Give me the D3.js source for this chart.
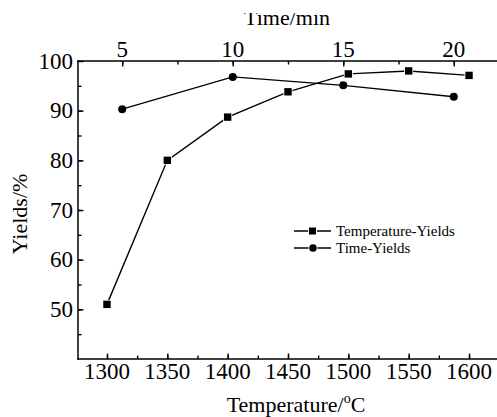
<!DOCTYPE html>
<html>
<head>
<meta charset="utf-8">
<script src="https://cdn.jsdelivr.net/npm/d3@7"></script>
<style>
  body { margin: 0; background: #fff; }
  svg { display: block; font-family: "Liberation Serif", "Times New Roman", serif; }
</style>
</head>
<body>
<svg id="chart" width="497" height="417"></svg>
<script>
// data
const temps = [1300, 1350, 1400, 1450, 1500, 1550, 1600];
const tempYields = [51.0, 80.0, 88.7, 93.8, 97.4, 98.0, 97.1];
const times = [5, 10, 15, 20];
const timeYields = [90.3, 96.8, 95.1, 92.8];
const tempTicks = [1300, 1350, 1400, 1450, 1500, 1550, 1600];
const timeTicks = [5, 10, 15, 20];
const yieldTicks = [50, 60, 70, 80, 90, 100];

const w = 497;
const h = 417;
const plotLeft = 78, plotRight = 498, plotTop = 61, plotBottom = 359;

const svg = d3.select("#chart");

let x = d3.scaleLinear().domain([1276, 1624]).range([plotLeft, plotRight]);
let xTop = d3.scaleLinear().domain([3, 22]).range([plotLeft, plotRight]);
let y = d3.scaleLinear().domain([40, 100]).range([plotBottom, plotTop]);

function styleAxis(g) {
  g.select(".domain").remove();
  g.selectAll("text").remove();
  g.selectAll("line").attr("stroke", "#000").attr("stroke-width", 1.4);
}

// tick marks (inward), minor then major
svg.append("g").attr("transform", `translate(0,${plotBottom})`)
  .call(d3.axisBottom(x).tickValues(d3.range(1300, 1626, 25)).tickSize(-3.5).tickFormat(""))
  .call(styleAxis);
svg.append("g").attr("transform", `translate(0,${plotTop})`)
  .call(d3.axisTop(xTop).tickValues(d3.range(5, 22, 2.5)).tickSize(-3.5).tickFormat(""))
  .call(styleAxis);
svg.append("g").attr("transform", `translate(${plotLeft},0)`)
  .call(d3.axisLeft(y).tickValues(d3.range(45, 100, 5)).tickSize(-3.5).tickFormat(""))
  .call(styleAxis);
svg.append("g").attr("transform", `translate(0,${plotBottom})`)
  .call(d3.axisBottom(x).tickValues(tempTicks).tickSize(-5.5).tickFormat(""))
  .call(styleAxis);
svg.append("g").attr("transform", `translate(0,${plotTop})`)
  .call(d3.axisTop(xTop).tickValues(timeTicks).tickSize(-5.5).tickFormat(""))
  .call(styleAxis);
svg.append("g").attr("transform", `translate(${plotLeft},0)`)
  .call(d3.axisLeft(y).tickValues(yieldTicks).tickSize(-5.5).tickFormat(""))
  .call(styleAxis);

// axis lines: left, bottom, top (no right axis)
const frame = [
  [plotLeft, plotTop, plotLeft, plotBottom],
  [plotLeft, plotBottom, plotRight, plotBottom],
  [plotLeft, plotTop, plotRight, plotTop]
];
svg.selectAll(".frame").data(frame).enter().append("line")
  .attr("x1", d => d[0]).attr("y1", d => d[1]).attr("x2", d => d[2]).attr("y2", d => d[3])
  .attr("stroke", "#000").attr("stroke-width", 1.5).attr("stroke-linecap", "square");

// tick labels
svg.selectAll(".xl").data(tempTicks).enter().append("text")
  .attr("x", d => x(d)).attr("y", 378.5)
  .attr("text-anchor", "middle").attr("font-size", 23).attr("fill", "#000")
  .text(d => d);
svg.selectAll(".tl").data(timeTicks).enter().append("text")
  .attr("x", d => xTop(d)).attr("y", 56.5)
  .attr("text-anchor", "middle").attr("font-size", 23).attr("fill", "#000")
  .text(d => d);
svg.selectAll(".yl").data(yieldTicks).enter().append("text")
  .attr("x", plotLeft - 5).attr("y", d => y(d) + 7.5)
  .attr("text-anchor", "end").attr("font-size", 23).attr("fill", "#000")
  .text(d => d);

// lines
const lineT = d3.line().x((d, i) => x(temps[i])).y(d => y(d));
const lineM = d3.line().x((d, i) => xTop(times[i])).y(d => y(d));

svg.append("path").datum(tempYields)
  .attr("d", lineT).attr("fill", "none").attr("stroke", "#000").attr("stroke-width", 1.4);
svg.append("path").datum(timeYields)
  .attr("d", lineM).attr("fill", "none").attr("stroke", "#000").attr("stroke-width", 1.4);

svg.selectAll(".sq").data(tempYields).enter().append("rect")
  .attr("x", (d, i) => x(temps[i]) - 3.7)
  .attr("y", d => y(d) - 3.7)
  .attr("width", 7.4).attr("height", 7.4)
  .attr("fill", "#000").attr("stroke", "#fff").attr("stroke-width", 1.6)
  .attr("paint-order", "stroke");

svg.selectAll(".dot").data(timeYields).enter().append("circle")
  .attr("cx", (d, i) => xTop(times[i]))
  .attr("cy", d => y(d))
  .attr("r", 4).attr("fill", "#000");

// axis titles
const xTitle = svg.append("text").attr("x", 296).attr("y", 411.5)
  .attr("text-anchor", "middle").attr("font-size", 22);
xTitle.append("tspan").text("Temperature/");
xTitle.append("tspan").attr("font-size", 14).attr("dy", -9).text("o");
xTitle.append("tspan").attr("dy", 9).text("C");

svg.append("text")
  .attr("transform", "translate(27,214) rotate(-90)")
  .attr("text-anchor", "middle").attr("font-size", 22)
  .text("Yields/%");

svg.append("clipPath").attr("id", "topclip")
  .append("rect").attr("x", 0).attr("y", 13).attr("width", w).attr("height", 40);
svg.append("text").attr("x", 287).attr("y", 25)
  .attr("text-anchor", "middle").attr("font-size", 22)
  .attr("clip-path", "url(#topclip)")
  .text("Time/min");

// legend
const legend = [
  { name: "Temperature-Yields", shape: "square" },
  { name: "Time-Yields", shape: "circle" }
];
legend.forEach(function (item, i) {
  const ly = 231 + i * 17;
  const g = svg.append("g");
  g.append("line").attr("x1", 294).attr("x2", 331).attr("y1", ly).attr("y2", ly)
    .attr("stroke", "#000").attr("stroke-width", 1.4);
  if (item.shape == "square") {
    g.append("rect").attr("x", 309).attr("y", ly - 3.5).attr("width", 7).attr("height", 7)
      .attr("fill", "#000").attr("stroke", "#fff").attr("stroke-width", 1.8).attr("paint-order", "stroke");
  } else {
    g.append("circle").attr("cx", 313).attr("cy", ly).attr("r", 3.8)
      .attr("fill", "#000").attr("stroke", "#fff").attr("stroke-width", 1.6).attr("paint-order", "stroke");
  }
  g.append("text").attr("x", 336).attr("y", ly + 5).attr("font-size", 15).text(item.name);
});
</script>
</body>
</html>
